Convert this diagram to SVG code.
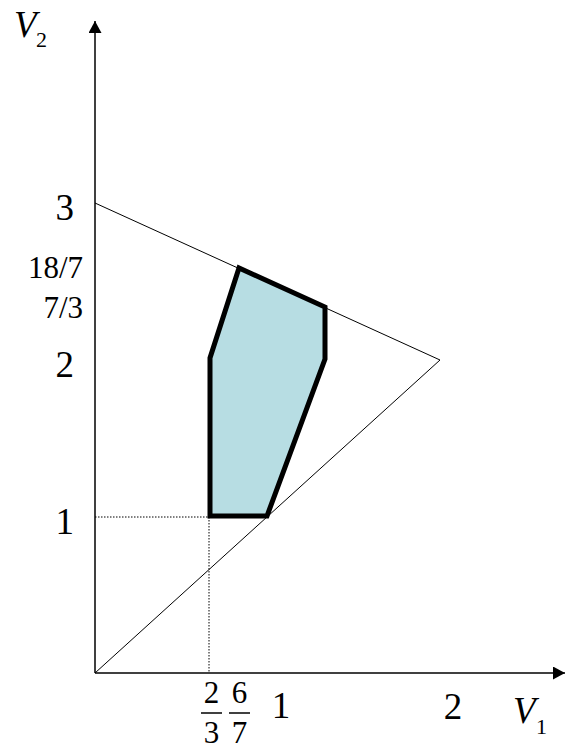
<svg xmlns="http://www.w3.org/2000/svg" width="567" height="755" viewBox="0 0 567 755">
<style>
.ax{stroke:#000;stroke-width:1.5;fill:none}
.thin{stroke:#000;stroke-width:1;fill:none}
.dot{stroke:#000;stroke-width:1;stroke-dasharray:1.5,1.5;fill:none}
.t{font-family:"Liberation Serif","Times New Roman",serif;fill:#000}
.big{font-size:37px}
.fr{font-size:31px}
.v{font-size:37px;font-style:italic}
.sub{font-size:22px}
</style>
<defs>
<marker id="ah" markerWidth="14" markerHeight="14" refX="12" refY="6.5" orient="auto" markerUnits="userSpaceOnUse">
<path d="M0,0 L12,6.5 L0,13 Z" fill="#000"/>
</marker>
</defs>
<g id="region">
<polygon points="210,516 267,516 325,359 325,307 239,268 210,358" fill="#b7dde3" stroke="#000" stroke-width="5" stroke-linejoin="miter"/>
</g>
<g id="connectors">
<line class="ax" x1="95" y1="673" x2="95" y2="21" marker-end="url(#ah)"/>
<line class="ax" x1="95" y1="673" x2="565" y2="673" marker-end="url(#ah)"/>
<line class="thin" x1="95" y1="203" x2="440" y2="360"/>
<line class="thin" x1="95" y1="673" x2="440" y2="360"/>
<line class="dot" x1="95" y1="517" x2="209" y2="517"/>
<line class="dot" x1="209" y1="517" x2="209" y2="673"/>
</g>
<g id="labels-y">
<text class="t v" x="14" y="37">V</text>
<text class="t sub" x="36" y="47">2</text>
<text class="t big" x="74" y="220" text-anchor="end">3</text>
<text class="t fr" x="83" y="278" text-anchor="end">18/7</text>
<text class="t fr" x="83" y="318" text-anchor="end">7/3</text>
<text class="t big" x="74" y="377" text-anchor="end">2</text>
<text class="t big" x="74" y="534" text-anchor="end">1</text>
</g>
<g id="labels-x">
<text class="t fr" x="211.5" y="703" text-anchor="middle">2</text>
<line class="ax" x1="201" y1="713" x2="222" y2="713"/>
<text class="t fr" x="211.5" y="743" text-anchor="middle">3</text>
<text class="t fr" x="239.5" y="703" text-anchor="middle">6</text>
<line class="ax" x1="229" y1="713" x2="250" y2="713"/>
<text class="t fr" x="239.5" y="743" text-anchor="middle">7</text>
<text class="t big" x="281" y="718" text-anchor="middle">1</text>
<text class="t big" x="453" y="719" text-anchor="middle">2</text>
<text class="t v" x="513" y="723">V</text>
<text class="t sub" x="536" y="734">1</text>
</g>
</svg>
